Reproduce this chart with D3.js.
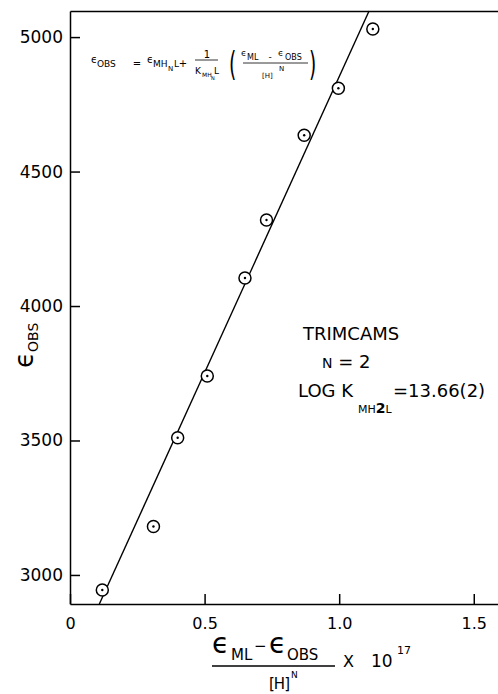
<!DOCTYPE html>
<html>
<head>
<meta charset="utf-8">
<script src="https://cdn.jsdelivr.net/npm/d3@7"></script>
<style>
  body { margin: 0; background: #fff; }
  svg { display: block; font-family: "DejaVu Sans", sans-serif; }
  .axis path, .axis line { stroke: #000; stroke-width: 1.5; }
  .axis text { font-family: "DejaVu Sans", sans-serif; fill: #000; }
</style>
</head>
<body>
<svg id="chart" width="498" height="694"></svg>
<script>
// measured points (x in units of 10^17, y = eps obs)
let xValues = [0.12, 0.31, 0.40, 0.51, 0.65, 0.73, 0.87, 0.997, 1.125];
let yValues = [2944, 3180, 3510, 3740, 4104, 4320, 4635, 4810, 5030];

// fitted straight line, ends
let fitX = [0.109, 1.111];
let fitY = [2892, 5097];

let xTicks = [0, 0.5, 1.0, 1.5];
let xTickLabels = ['0', '0.5', '1.0', '1.5'];
let yTicks = [3000, 3500, 4000, 4500, 5000];

let svg = d3.select('#chart');

let xScale = d3.scaleLinear()
  .domain([0, 1.59])
  .range([70, 498]);

let yScale = d3.scaleLinear()
  .domain([2892, 5097])
  .range([604, 11]);

// axes, ticks point inward
let xAxis = d3.axisBottom(xScale)
  .tickValues(xTicks)
  .tickFormat((d, i) => xTickLabels[i])
  .tickSize(-10)
  .tickSizeOuter(0)
  .tickPadding(14);

svg.append('g')
  .attr('class', 'axis')
  .attr('transform', `translate(0, ${yScale.range()[0]})`)
  .call(xAxis)
  .selectAll('text')
  .style('font-size', '16px');

let yAxis = d3.axisLeft(yScale)
  .tickValues(yTicks)
  .tickFormat(d3.format('d'))
  .tickSize(-10)
  .tickSizeOuter(0)
  .tickPadding(7);

svg.append('g')
  .attr('class', 'axis')
  .attr('transform', `translate(${xScale.range()[0]}, 0)`)
  .call(yAxis)
  .selectAll('text')
  .style('font-size', '17px');

// top frame line
svg.append('g')
  .attr('class', 'axis')
  .attr('transform', `translate(0, ${yScale.range()[1]})`)
  .call(d3.axisTop(xScale).tickValues([]).tickSizeOuter(0));

// fit line
svg.append('line')
  .attr('x1', xScale(fitX[0]))
  .attr('y1', yScale(fitY[0]))
  .attr('x2', xScale(fitX[1]))
  .attr('y2', yScale(fitY[1]))
  .attr('stroke', '#000')
  .attr('stroke-width', 1.4);

// points: open circle with a dot
let pts = xValues.map((x, i) => ({x: x, y: yValues[i]}));

let marks = svg.append('g').selectAll('g')
  .data(pts)
  .enter()
  .append('g')
  .attr('transform', d => `translate(${xScale(d.x)}, ${yScale(d.y)})`);

marks.append('circle')
  .attr('r', 6)
  .attr('fill', '#fff')
  .attr('stroke', '#000')
  .attr('stroke-width', 1.5);

marks.append('circle')
  .attr('r', 1.2)
  .attr('fill', '#000');

// helper for small bits of text
function txt(x, y, s, size, anchor) {
  return svg.append('text')
    .attr('x', x)
    .attr('y', y)
    .attr('font-size', size)
    .attr('text-anchor', anchor || 'start')
    .text(s);
}

// y axis title
let yt = svg.append('text')
  .attr('transform', 'translate(33, 368) rotate(-90)');
yt.append('tspan').attr('font-size', 26).text('ϵ');
yt.append('tspan').attr('font-size', 14).attr('dy', 5).text('OBS');

// x axis title (fraction)
txt(212, 653, 'ϵ', 28);
txt(231, 660, 'ML', 15);
txt(254, 651, '−', 15);
txt(269, 653, 'ϵ', 28);
txt(287, 660, 'OBS', 15);
svg.append('line')
  .attr('x1', 212).attr('x2', 335)
  .attr('y1', 666).attr('y2', 666)
  .attr('stroke', '#000').attr('stroke-width', 1.5);
txt(269, 689, '[H]', 15).attr('letter-spacing', -1);
txt(291, 678, 'N', 9);
txt(343, 667, 'X', 16);
txt(371, 667, '10', 17);
txt(397, 654, '17', 11);

// formula in top left
txt(91, 63, 'ϵ', 10);
txt(97, 67, 'OBS', 9);
txt(137, 67, '=', 10, 'middle');
txt(147, 63, 'ϵ', 10);
txt(153, 67, 'MH', 9);
txt(168, 71, 'N', 7);
txt(174, 67, 'L', 9);
txt(183, 67, '+', 10, 'middle');
txt(207, 58, '1', 10, 'middle');
svg.append('line')
  .attr('x1', 195).attr('x2', 218)
  .attr('y1', 60).attr('y2', 60)
  .attr('stroke', '#000').attr('stroke-width', 0.8);
txt(195, 74, 'K', 9);
txt(202, 77, 'MH', 6);
txt(211, 80, 'N', 5);
txt(214, 74, 'L', 9);
txt(229, 76, '(', 34).attr('transform', 'translate(229,0) scale(0.55,1) translate(-229,0)');
txt(241, 56, 'ϵ', 9);
txt(247, 60, 'ML', 8);
txt(270, 60, '-', 9, 'middle');
txt(278, 56, 'ϵ', 9);
txt(285, 60, 'OBS', 8);
svg.append('line')
  .attr('x1', 243).attr('x2', 308)
  .attr('y1', 63).attr('y2', 63)
  .attr('stroke', '#000').attr('stroke-width', 0.8);
txt(262, 78, '[H]', 7);
txt(279, 71, 'N', 7);
txt(309, 76, ')', 34).attr('transform', 'translate(309,0) scale(0.55,1) translate(-309,0)');

// annotation
txt(303, 340, 'TRIMCAMS', 18);
let nl = svg.append('text').attr('x', 322).attr('y', 368);
nl.append('tspan').attr('font-size', 14).text('N');
nl.append('tspan').attr('font-size', 18).text(' = 2');
txt(298, 397, 'LOG K', 18);
let sub = svg.append('text').attr('x', 358).attr('y', 413);
sub.append('tspan').attr('font-size', 11).text('MH');
sub.append('tspan').attr('font-size', 14).attr('font-weight', 'bold').text('2');
sub.append('tspan').attr('font-size', 11).text('L');
txt(393, 397, '=13.66(2)', 18);
</script>
</body>
</html>
